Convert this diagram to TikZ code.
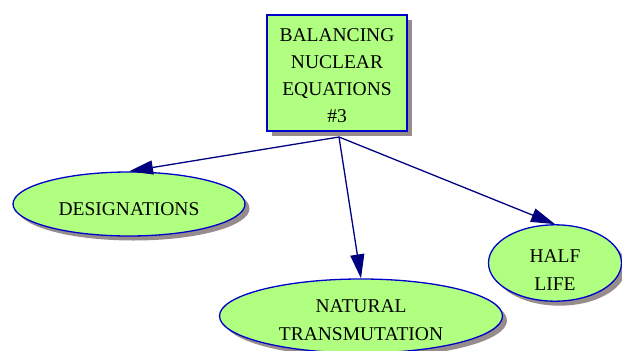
\documentclass[tikz,border=0pt]{standalone}
\usepackage{fontspec}
\setmainfont{Liberation Serif}
\usetikzlibrary{shapes.geometric,shadows,arrows.meta}

\definecolor{leaf}{RGB}{176,255,128}
\definecolor{rim}{RGB}{0,0,204}
\definecolor{wire}{RGB}{0,0,128}
\definecolor{shade}{RGB}{150,140,140}

% invisible strut that pushes a node's text down
\newcommand{\sinker}[1]{\rule{0pt}{#1}}

\tikzset{
  topic/.style={draw=rim,fill=leaf,line width=1.3pt,align=center,
    font=\fontsize{19.5}{27}\selectfont,
    drop shadow={shadow xshift=4.5pt,shadow yshift=-4.5pt,fill=shade,opacity=1}},
  mainbox/.style={topic,rectangle,inner sep=0pt,minimum width=140pt,minimum height=116pt},
  bubble/.style={topic,ellipse,inner sep=0pt,font=\fontsize{19.5}{28}\selectfont},
}

\begin{document}
\begin{tikzpicture}[x=1pt,y=1pt,>={Triangle[length=24pt,width=14pt]},line width=1.3pt]
            \useasboundingbox (0,0) rectangle (622,-351);

            \node[mainbox] (title) at (337,-73) {\sinker{19pt}BALANCING\\NUCLEAR\\EQUATIONS\\\#3};

            \node[bubble,minimum width=232pt,minimum height=64pt] (desig) at (129,-204) {\sinker{24pt}DESIGNATIONS};
            \node[bubble,minimum width=283pt,minimum height=74pt] (natural) at (361,-316) {\sinker{21pt}NATURAL\\TRANSMUTATION};
            \node[bubble,minimum width=133pt,minimum height=74pt] (half) at (555,-263) {\sinker{26pt}HALF\\LIFE};

            \coordinate (hub) at (339,-137);

            \draw[->,wire] (hub) -- (desig.north);
            \draw[->,wire] (hub) -- (natural.north);
            \draw[->,wire] (hub) -- (half.north);

        \end{tikzpicture}
\end{document}
